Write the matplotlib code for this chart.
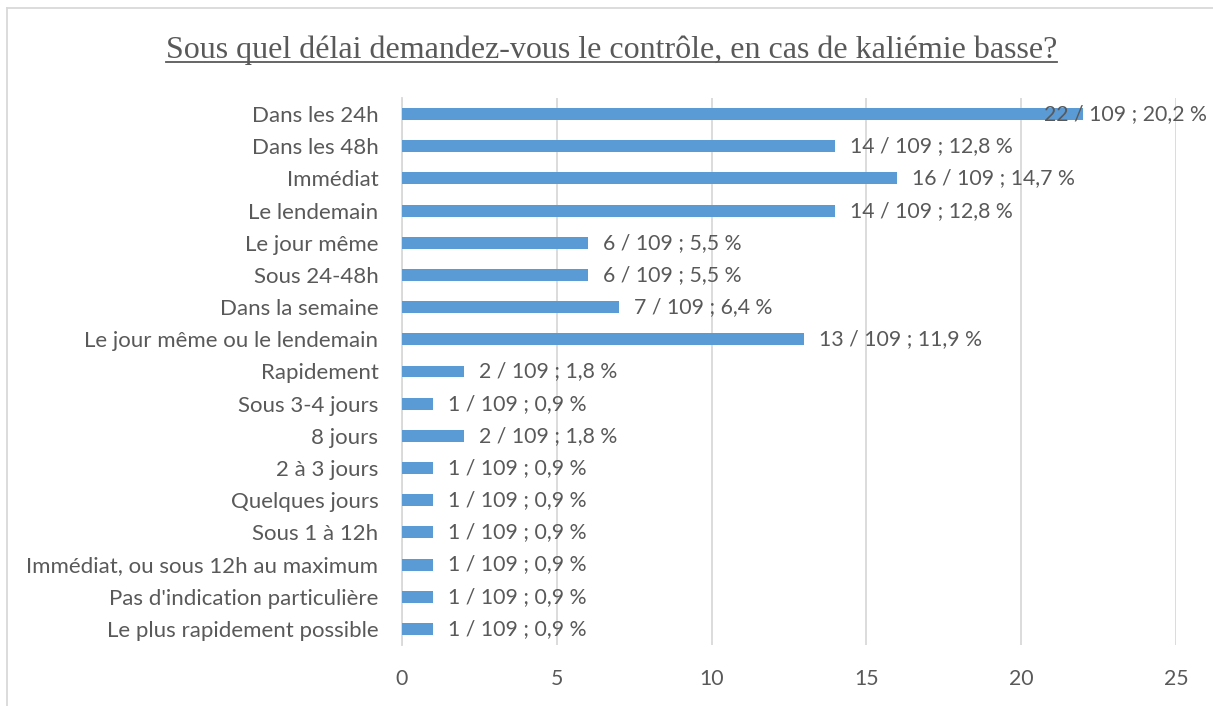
import matplotlib.pyplot as plt
from matplotlib.lines import Line2D

# reponses a la question (ordre du graphique, de haut en bas)
categories = [
    "Dans les 24h", "Dans les 48h", "Immédiat", "Le lendemain", "Le jour même",
    "Sous 24-48h", "Dans la semaine", "Le jour même ou le lendemain", "Rapidement",
    "Sous 3-4 jours", "8 jours", "2 à 3 jours", "Quelques jours", "Sous 1 à 12h",
    "Immédiat, ou sous 12h au maximum", "Pas d'indication particulière",
    "Le plus rapidement possible",
]
counts = [22, 14, 16, 14, 6, 6, 7, 13, 2, 1, 2, 1, 1, 1, 1, 1, 1]
total = 109
xticks = [0, 5, 10, 15, 20, 25]
title = "Sous quel délai demandez-vous le contrôle, en cas de kaliémie basse?"

txt = "#595959"
bar_col = "#5B9BD5"
grid_col = "#D9D9D9"
fs = 15.3

plt.rcParams["font.family"] = ["Lato", "DejaVu Sans"]

fig = plt.figure(figsize=(12.13, 7.06), dpi=100)
ax = fig.add_axes([0.3314, 0.0864, 0.9695 - 0.3314, 0.8612 - 0.0864])

y = list(range(len(categories)))
ax.barh(y, counts, height=0.37, color=bar_col, zorder=3)
ax.set_ylim(len(categories) - 0.5, -0.5)
ax.set_xlim(0, 25)
ax.set_xticks(xticks)
ax.set_yticks(y)
ax.set_yticklabels(categories)
ax.tick_params(axis="both", length=0, labelsize=fs, colors=txt)
ax.tick_params(axis="y", pad=17, labelsize=16)
ax.tick_params(axis="x", pad=17)
ax.grid(axis="x", color=grid_col, linewidth=1.3, zorder=0)
for s in ["top", "right", "bottom"]:
    ax.spines[s].set_visible(False)
ax.spines["left"].set_color(grid_col)
ax.spines["left"].set_linewidth(1.3)

for yi, c in zip(y, counts):
    pct = f"{c / total * 100:.1f}".replace(".", ",")
    lab = f"{c} / {total} ; {pct} %"
    if c > 20:
        ax.annotate(lab, xy=(1, yi), xycoords=("axes fraction", "data"),
                    xytext=(31, 0), textcoords="offset pixels",
                    ha="right", va="center", fontsize=fs, color=txt, zorder=4)
    else:
        ax.annotate(lab, xy=(c, yi), xytext=(15, 0), textcoords="offset pixels",
                    ha="left", va="center", fontsize=fs, color=txt, zorder=4)

t = fig.text(0.5041, 0.929, title, ha="center", va="center", fontsize=23,
             family="Liberation Serif", color=txt)

# soulignement du titre
fig.canvas.draw()
bb = t.get_window_extent().transformed(fig.transFigure.inverted())
fig.add_artist(Line2D([bb.x0, bb.x1], [bb.y0 + 0.004, bb.y0 + 0.004],
                      transform=fig.transFigure, color=txt, linewidth=1.3))

# cadre du graphique
fig.add_artist(Line2D([6.5 / 1213, 6.5 / 1213], [0, 1 - 7.5 / 706],
                      transform=fig.transFigure, color=grid_col, linewidth=1.3))
fig.add_artist(Line2D([6.5 / 1213, 1], [1 - 7.5 / 706, 1 - 7.5 / 706],
                      transform=fig.transFigure, color=grid_col, linewidth=1.3))

fig.savefig("out.png", dpi=100)
